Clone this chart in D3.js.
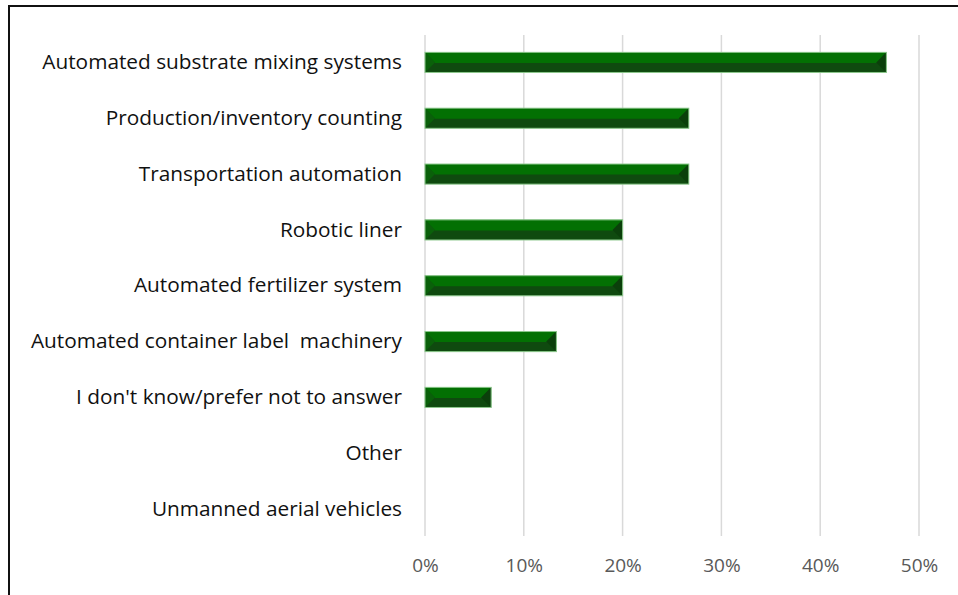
<!DOCTYPE html>
<html>
<head>
<meta charset="utf-8">
<script src="https://cdn.jsdelivr.net/npm/d3@7"></script>
<style>
  html, body { margin: 0; padding: 0; background: #fff; }
  svg { display: block; }
</style>
</head>
<body>
<svg id="chart" width="958" height="595"></svg>
<script>
// Share of respondents for each automation technology (fractions of 1)
const categories = [
  "Automated substrate mixing systems",
  "Production/inventory counting",
  "Transportation automation",
  "Robotic liner",
  "Automated fertilizer system",
  "Automated container label  machinery",
  "I don't know/prefer not to answer",
  "Other",
  "Unmanned aerial vehicles"
];
const values = [0.467, 0.267, 0.267, 0.200, 0.200, 0.133, 0.067, 0, 0];
const tickValues = [0, 0.1, 0.2, 0.3, 0.4, 0.5];
const tickLabels = ["0%", "10%", "20%", "30%", "40%", "50%"];

const svg = d3.select("#chart");
const fontFamily = "'Open Sans', 'Noto Sans', sans-serif";

// Frame
svg.append("rect")
  .attr("x", 9).attr("y", 6)
  .attr("width", 970).attr("height", 620)
  .attr("fill", "none").attr("stroke", "#111").attr("stroke-width", 2);

const x = d3.scaleLinear().domain([0, 0.5]).range([425, 919]);
const y = d3.scaleBand().domain(categories).range([34.5, 537]).paddingInner(0.64).paddingOuter(0.32);

// Vertical gridlines
svg.append("g").selectAll("line")
  .data(tickValues)
  .join("line")
  .attr("x1", d => x(d)).attr("x2", d => x(d))
  .attr("y1", 35).attr("y2", 536)
  .attr("stroke", "#d9d9d9").attr("stroke-width", 1.5);

// Tick labels along the bottom
const xAxis = d3.axisBottom(x).tickValues(tickValues)
  .tickFormat((d, i) => tickLabels[i]).tickSize(0).tickPadding(0);
const gx = svg.append("g").attr("transform", "translate(0,558)").call(xAxis);
gx.select(".domain").remove();
gx.selectAll("text")
  .attr("font-family", fontFamily).attr("font-size", 19)
  .attr("fill", "#595959");

// Category labels
const yAxis = d3.axisLeft(y).tickSize(0).tickPadding(0);
const gy = svg.append("g").attr("transform", "translate(402,0)").call(yAxis);
gy.select(".domain").remove();
gy.selectAll("text")
  .attr("font-family", fontFamily).attr("font-size", 20.8)
  .attr("fill", "#111")
  .style("white-space", "pre");

// Bevelled bars: dark base, lit top face, shaded end facets
const bars = svg.append("g").selectAll("g")
  .data(categories.map((c, i) => ({ c, v: values[i] })).filter(d => d.v > 0))
  .join("g");

bars.each(function(d) {
  const g = d3.select(this);
  const x0 = x(0), x1 = x(d.v);
  const y0 = y(d.c), h = y.bandwidth(), y1 = y0 + h, ym = y0 + h / 2;
  const b = h / 2;
  const poly = pts => pts.map(p => p.join(",")).join(" ");
  g.append("rect").attr("x", x0).attr("y", y0).attr("width", x1 - x0).attr("height", h)
    .attr("fill", "#0f4a0f");
  g.append("polygon").attr("points", poly([[x0, y0], [x1, y0], [x1 - b, ym + 0.5], [x0 + b, ym + 0.5]]))
    .attr("fill", "#037003");
  g.append("polygon").attr("points", poly([[x0, y0], [x0 + b, ym], [x0, y1]])).attr("fill", "#0a600a");
  g.append("polygon").attr("points", poly([[x1, y0], [x1, y1], [x1 - b, ym]])).attr("fill", "#0b3f0b");
  g.append("rect").attr("x", x0).attr("y", y0).attr("width", x1 - x0).attr("height", h)
    .attr("fill", "none").attr("stroke", "#8cc88c").attr("stroke-width", 1);
});
</script>
</body>
</html>
